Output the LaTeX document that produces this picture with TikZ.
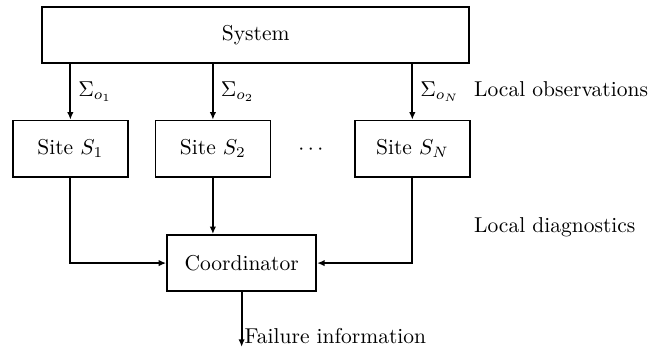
\documentclass[tikz,border=0pt]{standalone}
\usepackage{amsmath}
\usepackage{tikz}
\usetikzlibrary{calc,positioning,arrows.meta}

\begin{document}
\begin{tikzpicture}[>={Latex[length=3.5pt,width=3pt]},thick,
    block/.style={draw,minimum height=0.92cm,inner sep=2pt},
    site/.style={block,minimum width=1.88cm}]
  % Configurable parameters
  \def\sitey{-2.43}
  \def\labx{7.62}
  %
  \useasboundingbox (0,0) rectangle (10.87,-5.76);
  %
  % Blocks
  \node[block,minimum width=6.98cm] (sys) at (4.18,-0.57) {System};
  \node[site] (s1) at (1.15,\sitey) {Site $S_1$};
  \node[site] (s2) at (3.48,\sitey) {Site $S_2$};
  \node[site] (sN) at (6.74,\sitey) {Site $S_N$};
  \node[anchor=base] (dots) at ($(s2.base)!0.5!(sN.base)$) {$\cdots$};
  \node[block,minimum width=2.44cm] (coord) at (3.95,-4.30) {Coordinator};
  %
  % Local observations
  \draw[->] (sys.south -| s1) -- (s1.north) node[midway,right] (sig1) {$\Sigma_{o_1}$};
  \draw[->] (sys.south -| s2) -- (s2.north) node[midway,right] (sig2) {$\Sigma_{o_2}$};
  \draw[->] (sys.south -| sN) -- (sN.north) node[midway,right] (sigN) {$\Sigma_{o_N}$};
  \coordinate (obsx) at (\labx,0);
  \node[anchor=base west] (obs) at (obsx |- sigN.base) {Local observations};
  %
  % Local diagnostics
  \draw[->] (s1.south) |- (coord.west);
  \draw[->] (s2.south) -- (s2.south |- coord.north);
  \draw[->] (sN.south) |- (coord.east);
  \coordinate (diagy) at (0,-3.71);
  \node[anchor=west] (diag) at (obsx |- diagy) {Local diagnostics};
  %
  % Output
  \coordinate (fail) at (3.95,-5.67);
  \draw[->] (coord.south) -- (fail) node[pos=0.8,right,inner sep=1pt] (failtxt) {Failure information};
  %
\end{tikzpicture}
\end{document}
